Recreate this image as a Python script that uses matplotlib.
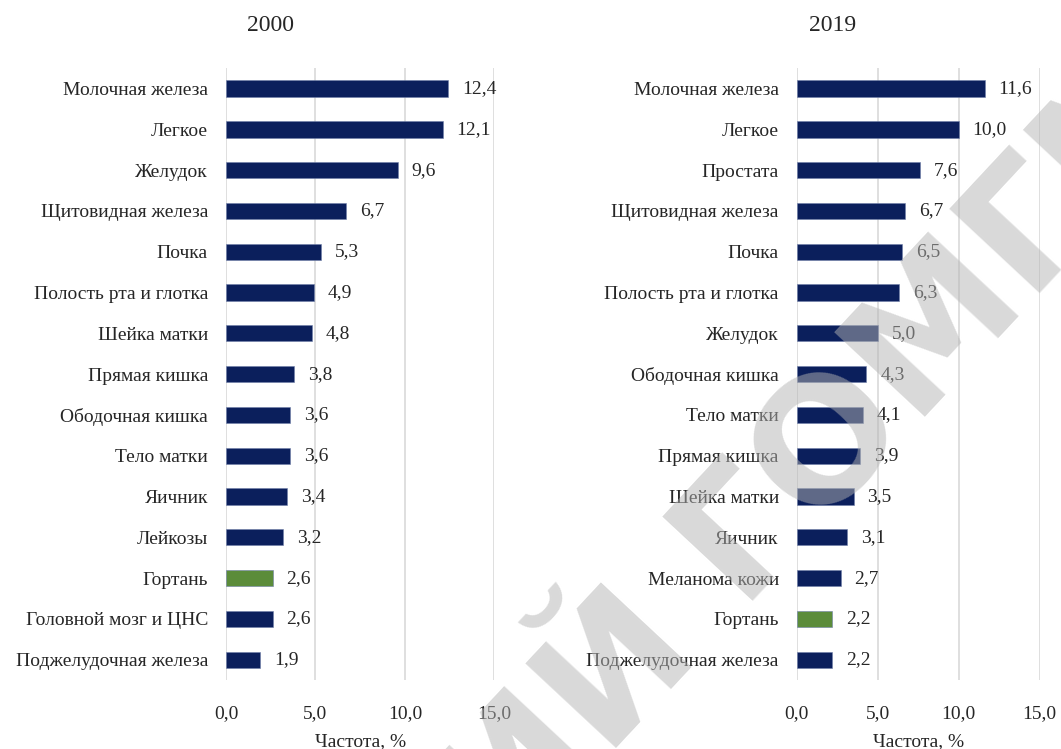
import numpy as np
import matplotlib
matplotlib.use("Agg")
import matplotlib.pyplot as plt

plt.rcParams["font.family"] = ["Liberation Serif", "DejaVu Serif"]

# 2000
sites_2000 = ["Молочная железа", "Легкое", "Желудок", "Щитовидная железа", "Почка",
              "Полость рта и глотка", "Шейка матки", "Прямая кишка", "Ободочная кишка",
              "Тело матки", "Яичник", "Лейкозы", "Гортань", "Головной мозг и ЦНС",
              "Поджелудочная железа"]
freq_2000 = [12.4, 12.1, 9.6, 6.7, 5.3, 4.9, 4.8, 3.8, 3.6, 3.6, 3.4, 3.2, 2.6, 2.6, 1.9]

# 2019
sites_2019 = ["Молочная железа", "Легкое", "Простата", "Щитовидная железа", "Почка",
              "Полость рта и глотка", "Желудок", "Ободочная кишка", "Тело матки",
              "Прямая кишка", "Шейка матки", "Яичник", "Меланома кожи", "Гортань",
              "Поджелудочная железа"]
freq_2019 = [11.6, 10.0, 7.6, 6.7, 6.5, 6.3, 5.0, 4.3, 4.1, 3.9, 3.5, 3.1, 2.7, 2.2, 2.2]

highlight = "Гортань"
xticks = [0, 5, 10, 15]

NAVY = "#0b1f5c"
GREEN = "#5b8c3a"
TXT = "#262626"

fig = plt.figure(figsize=(10.61, 7.49), dpi=100)
ax1 = fig.add_axes([0.213, 0.092, 0.253, 0.817])
ax2 = fig.add_axes([0.751, 0.092, 0.229, 0.817])


def draw_panel(ax, sites, vals, title, title_x):
    y = np.arange(len(sites))
    colors = [GREEN if s == highlight else NAVY for s in sites]
    ax.barh(y, vals, height=0.4, color=colors, edgecolor="#6f7fa8", linewidth=0.4, zorder=3)
    for yi, v in zip(y, vals):
        ax.annotate(f"{v:.1f}".replace(".", ","), (v, yi), xytext=(10, 0),
                    textcoords="offset points", va="center", ha="left",
                    fontsize=14, color=TXT)
    ax.set_yticks(y)
    ax.set_yticklabels(sites, fontsize=14, color=TXT)
    ax.set_ylim(len(sites) - 0.5, -0.5)
    ax.set_xlim(0, 15)
    ax.set_xticks(xticks)
    ax.set_xticklabels([f"{t:.1f}".replace(".", ",") for t in xticks], fontsize=14, color=TXT)
    ax.set_xlabel("Частота, %", fontsize=14, color=TXT, labelpad=8)
    ax.tick_params(axis="y", length=0, pad=13)
    ax.tick_params(axis="x", length=0, pad=18)
    ax.grid(axis="x", color="#d9d9d9", linewidth=1.2, zorder=0)
    for sp in ax.spines.values():
        sp.set_visible(False)
    fig.text(title_x, 0.966, title, ha="center", va="center", fontsize=17, color=TXT)


draw_panel(ax1, sites_2000, freq_2000, "2000", 0.255)
draw_panel(ax2, sites_2019, freq_2019, "2019", 0.785)

# watermark
fig.text(0.480, -0.152, "ИЙ ГОМГМУ", rotation=47, rotation_mode="anchor",
         fontsize=122, fontweight="bold", family="DejaVu Sans",
         color="#b4b4b4", alpha=0.5, ha="left", va="baseline", zorder=10)

fig.savefig("out.png", dpi=100)
